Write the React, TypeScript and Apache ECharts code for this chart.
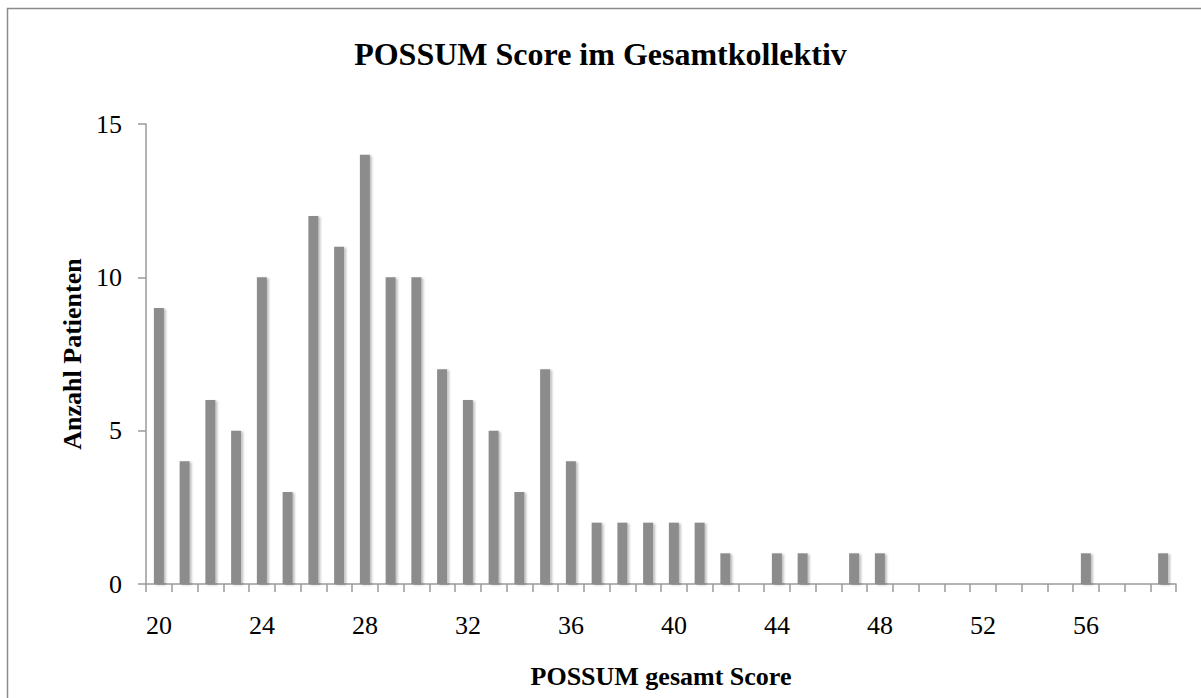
import React, { useEffect, useRef } from "react";
import * as echarts from "echarts";

const categories: string[] = [
  "20", "21", "22", "23", "24", "25", "26", "27", "28", "29",
  "30", "31", "32", "33", "34", "35", "36", "37", "38", "39",
  "40", "41", "42", "43", "44", "45", "46", "47", "48", "49",
  "50", "51", "52", "53", "54", "55", "56", "57", "58", "59",
];
const patients: number[] = [
  9, 4, 6, 5, 10, 3, 12, 11, 14, 10,
  10, 7, 6, 5, 3, 7, 4, 2, 2, 2,
  2, 2, 1, 0, 1, 1, 0, 1, 1, 0,
  0, 0, 0, 0, 0, 0, 1, 0, 0, 1,
];
const yTicks: number[] = [0, 5, 10, 15];

const FONT = "'Liberation Serif', 'Times New Roman', serif";

export default function App() {
  const ref = useRef<HTMLDivElement>(null);
  useEffect(() => {
    if (!ref.current) return;
    const chart = echarts.init(ref.current, null, { renderer: "svg" });
    chart.setOption({
      animation: false,
      backgroundColor: "#ffffff",
      title: {
        text: "POSSUM Score im Gesamtkollektiv",
        left: "center",
        top: 33,
        textStyle: { fontFamily: FONT, fontWeight: "bold", fontSize: 32, color: "#000" },
      },
      graphic: [
        {
          type: "rect",
          shape: { x: 7.5, y: 8.5, width: 1210, height: 710 },
          style: { fill: "none", stroke: "#8a8a8a", lineWidth: 1.5 },
          silent: true,
        },
      ],
      grid: { left: 146, right: 25, top: 124, bottom: 114 },
      xAxis: {
        type: "category",
        data: categories,
        boundaryGap: true,
        name: "POSSUM gesamt Score",
        nameLocation: "middle",
        nameGap: 79,
        nameTextStyle: { fontFamily: FONT, fontWeight: "bold", fontSize: 26, color: "#000" },
        axisLine: { lineStyle: { color: "#9a9a9a", width: 1.5 } },
        axisTick: { show: true, interval: 0, length: 8, lineStyle: { color: "#9a9a9a", width: 1.5 } },
        axisLabel: {
          interval: 3,
          margin: 28,
          fontFamily: FONT,
          fontSize: 26,
          color: "#000",
        },
        splitLine: { show: false },
      },
      yAxis: {
        type: "value",
        min: yTicks[0],
        max: yTicks[yTicks.length - 1],
        interval: 5,
        name: "Anzahl Patienten",
        nameLocation: "middle",
        nameGap: 54,
        nameRotate: 90,
        nameTextStyle: { fontFamily: FONT, fontWeight: "bold", fontSize: 26, color: "#000" },
        axisLine: { show: true, lineStyle: { color: "#9a9a9a", width: 1.5 } },
        axisTick: { show: true, length: 8, lineStyle: { color: "#9a9a9a", width: 1.5 } },
        axisLabel: { margin: 24, fontFamily: FONT, fontSize: 26, color: "#000" },
        splitLine: { show: false },
      },
      series: [
        {
          type: "bar",
          data: patients,
          barWidth: 10,
          itemStyle: {
            color: "#8c8c8c",
            shadowColor: "rgba(0,0,0,0.25)",
            shadowBlur: 2,
            shadowOffsetX: 2,
            shadowOffsetY: 1,
          },
        },
      ],
    });
    return () => chart.dispose();
  }, []);
  return (
    <div
      ref={ref}
      style={{ position: "absolute", left: 0, top: 0, width: 1201, height: 698 }}
    />
  );
}
